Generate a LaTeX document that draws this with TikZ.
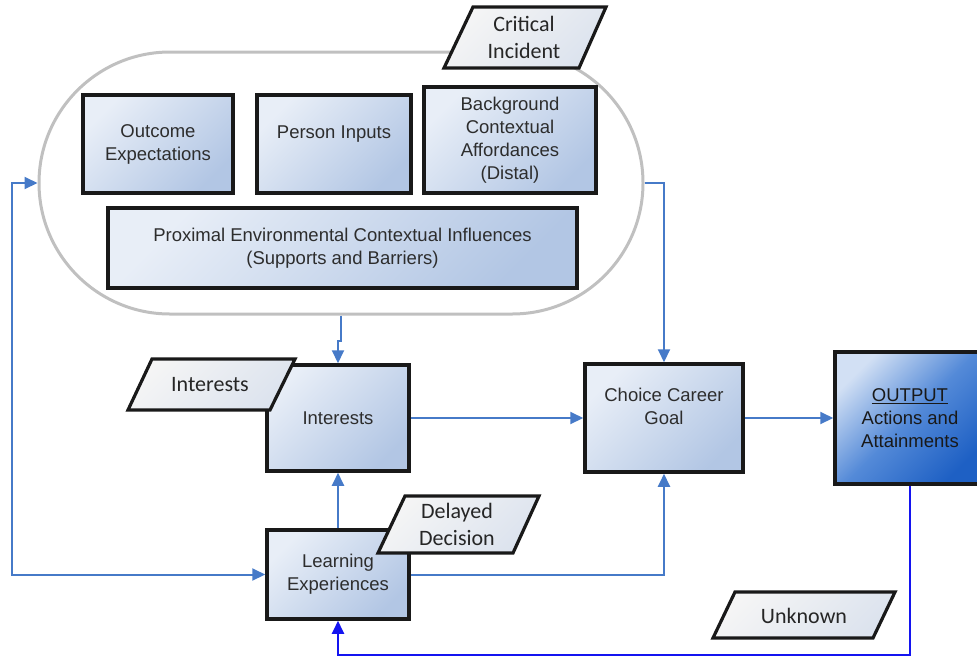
\documentclass[tikz,border=0pt]{standalone}
\usepackage{fontspec}
\setmainfont{Liberation Sans}
\newfontfamily\calib{Carlito}
\usetikzlibrary{arrows.meta}

\definecolor{connblue}{RGB}{70,122,200}
\definecolor{fbblue}{RGB}{20,20,240}
\definecolor{envgray}{RGB}{192,192,192}
\definecolor{boxlight}{RGB}{232,238,247}
\definecolor{boxdark}{RGB}{178,198,228}
\definecolor{outlight}{RGB}{210,224,244}
\definecolor{outmid}{RGB}{84,138,216}
\definecolor{outdark}{RGB}{30,96,196}
\definecolor{paralight}{RGB}{245,245,245}
\definecolor{paradark}{RGB}{220,227,238}
\definecolor{boxtext}{RGB}{45,45,45}

\begin{document}
\begin{tikzpicture}[x=1pt,y=-1pt,
  envbox/.style={draw=envgray, line width=3pt, rounded corners=131pt,
    minimum width=604pt, minimum height=262pt, inner sep=0pt},
  box/.style={draw=black!90, line width=3.5pt, top color=boxlight,
    bottom color=boxdark, shading angle=45, align=center, inner sep=2pt,
    text=boxtext, font=\fontsize{18.5}{23}\selectfont},
  outbox/.style={box, top color=outlight, bottom color=outdark,
    middle color=outmid, shading angle=45, text=black!90},
  para/.style={draw=black!90, line width=3.2pt, line join=miter,
    top color=paralight, bottom color=paradark, shading angle=45},
  paratext/.style={align=center, inner sep=0pt, text=black!85,
    font=\calib\fontsize{22}{27}\selectfont},
  conn/.style={draw=connblue, line width=2pt,
    -{Triangle[length=13pt,width=12pt]}},
  fb/.style={draw=fbblue, line width=2pt,
    -{Triangle[length=13pt,width=12pt]}}]

\useasboundingbox (0,0) rectangle (977,657);
\clip (0,0) rectangle (977,657);

% environment group
\node[envbox] (env) at (341,183) {};

% boxes inside the environment group
\node[box, minimum width=150pt, minimum height=98pt] (outcome) at (158,144)
  {Outcome\\Expectations};
\node[box, minimum width=154pt, minimum height=98pt] (person) at (334,144)
  {Person Inputs\\\mbox{}};
\node[box, minimum width=172pt, minimum height=106pt] (background) at (510,140)
  {Background\\Contextual\\Affordances\\(Distal)};
\node[box, minimum width=469pt, minimum height=80pt] (proximal) at (342.5,248)
  {Proximal Environmental Contextual Influences\\(Supports and Barriers)};

% main flow boxes
\node[box, minimum width=142pt, minimum height=106pt] (interests) at (338,418)
  {Interests};
\node[box, minimum width=158pt, minimum height=108pt] (choice) at (664,418)
  {Choice Career\\Goal\\\mbox{}};
\node[box, minimum width=142pt, minimum height=89pt] (learning) at (338,574.5)
  {Learning\\Experiences};
\node[outbox, minimum width=150pt, minimum height=132pt] (output) at (910,418)
  {\underline{OUTPUT}\\Actions and\\Attainments};

% connectors
\draw[conn] (env.east) -| (choice.north);
\draw[conn] (env.south) -- ++(0,25) -| (interests.north);
\draw[conn] (interests.east) -- (choice.west);
\draw[conn] (learning.north) -- (interests.south);
\draw[conn] (learning.east) -| (choice.south);
\draw[conn] (choice.east) -- (output.west);
\draw[conn, {Triangle[length=13pt,width=12pt]}-{Triangle[length=13pt,width=12pt]}]
  (learning.west) -- ++(-253,0) |- (env.west);
\coordinate (fbcorner) at (910,655);
\draw[fb] (output.south) -- (fbcorner) -| (learning.south);

% event labels
\draw[para] (473,7) -- (606,7) -- (579,68) -- (444,68) -- cycle;
\node[paratext] (critical) at (524,37) {Critical\\Incident};

\draw[para] (152,359) -- (295,359) -- (270,410) -- (128,410) -- cycle;
\node[paratext] (interestsevent) at (210,385) {Interests};

\draw[para] (405,496) -- (539,496) -- (513,553) -- (378,553) -- cycle;
\node[paratext] (delayed) at (457,524) {Delayed\\Decision};

\draw[para] (735,592) -- (895,592) -- (873,638) -- (713,638) -- cycle;
\node[paratext] (unknown) at (804,616) {Unknown};

\end{tikzpicture}
\end{document}
